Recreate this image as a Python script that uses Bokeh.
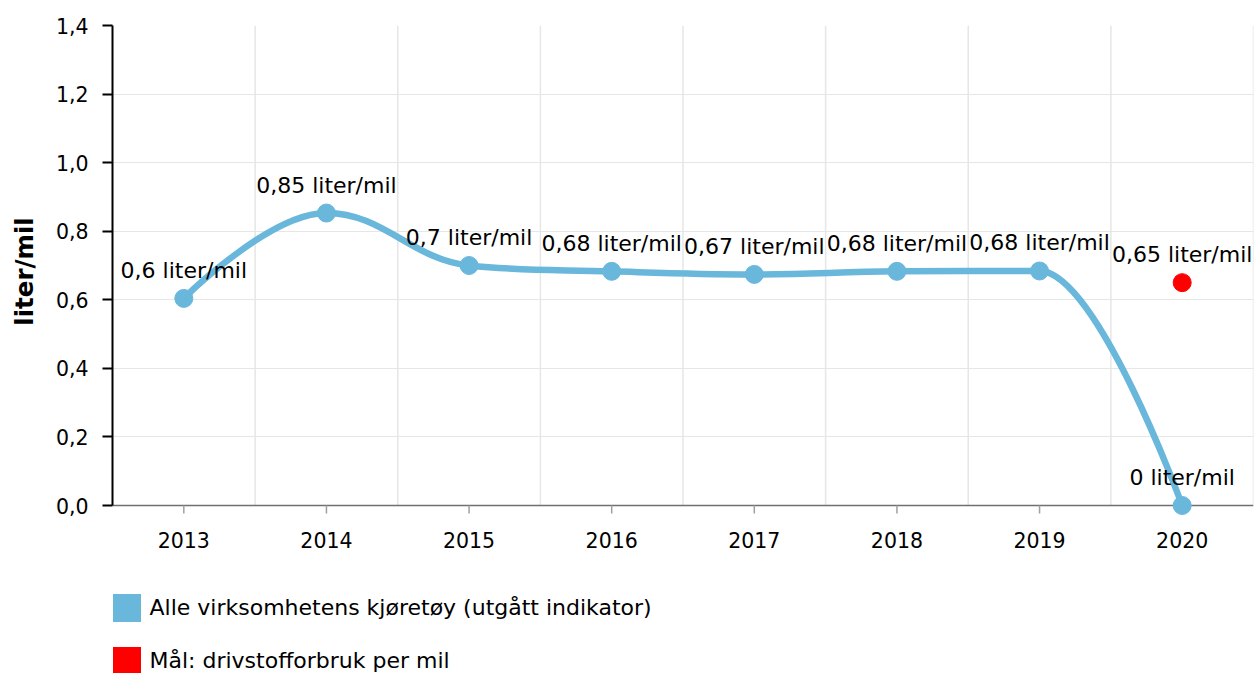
import numpy as np
from bokeh.plotting import figure
from bokeh.layouts import column
from bokeh.models import (Range1d, FixedTicker, CustomJSTickFormatter, Legend,
                          LegendItem, ColumnDataSource, Span)
from bokeh.core.properties import value
from bokeh.embed import file_html
from bokeh.resources import INLINE

# ---------------- data ----------------
years = ["2013", "2014", "2015", "2016", "2017", "2018", "2019", "2020"]
fuel = [0.604, 0.853, 0.700, 0.683, 0.674, 0.683, 0.684, 0.0]
target_years = ["2020"]
target = [0.65]
y_ticks = [0.0, 0.2, 0.4, 0.6, 0.8, 1.0, 1.2, 1.4]
series_names = ["Alle virksomhetens kjøretøy (utgått indikator)",
                "Mål: drivstofforbruk per mil"]
unit = "liter/mil"

BLUE = "#6AB7DC"
RED = "#FF0000"
GRID = "#E6E6E6"
FONT = "DejaVu Sans"


def fmt(v):
    return f"{round(v, 2):g}".replace(".", ",") + " " + unit


# ---------------- spline control points (Highcharts-style) ----------------
def spline_controls(x, y, smoothing=1.5):
    n = len(x)
    denom = smoothing + 1
    lcx, lcy = list(x), list(y)
    rcx, rcy = list(x), list(y)
    for i in range(1, n - 1):
        px, py = x[i], y[i]
        lx, ly = x[i - 1], y[i - 1]
        nx, ny = x[i + 1], y[i + 1]
        lcx_, lcy_ = (smoothing * px + lx) / denom, (smoothing * py + ly) / denom
        rcx_, rcy_ = (smoothing * px + nx) / denom, (smoothing * py + ny) / denom
        corr = ((rcy_ - lcy_) * (rcx_ - px)) / (rcx_ - lcx_) + py - rcy_
        lcy_ += corr
        rcy_ += corr
        if lcy_ > ly and lcy_ > py:
            lcy_ = max(ly, py); rcy_ = 2 * py - lcy_
        elif lcy_ < ly and lcy_ < py:
            lcy_ = min(ly, py); rcy_ = 2 * py - lcy_
        if rcy_ > ny and rcy_ > py:
            rcy_ = max(ny, py); lcy_ = 2 * py - rcy_
        elif rcy_ < ny and rcy_ < py:
            rcy_ = min(ny, py); lcy_ = 2 * py - rcy_
        lcx[i], lcy[i], rcx[i], rcy[i] = lcx_, lcy_, rcx_, rcy_
    return lcx, lcy, rcx, rcy


xs = [float(i) for i in range(len(years))]
lcx, lcy, rcx, rcy = spline_controls(xs, fuel)
seg = ColumnDataSource(dict(
    x0=xs[:-1], y0=fuel[:-1], x1=xs[1:], y1=fuel[1:],
    cx0=rcx[:-1], cy0=rcy[:-1], cx1=lcx[1:], cy1=lcy[1:]))

pts = ColumnDataSource(dict(x=xs, y=fuel, label=[fmt(v) for v in fuel]))
tx = [float(years.index(t)) for t in target_years]
tgt = ColumnDataSource(dict(x=tx, y=target, label=[fmt(v) for v in target]))

# ---------------- main chart ----------------
px_per_unit = 480 / 1.4
p = figure(width=1255, height=580,
           x_range=Range1d(-0.5, len(years) - 0.5),
           y_range=Range1d(-12 / px_per_unit, 1.4),
           output_backend="svg", toolbar_location=None,
           min_border_left=112, min_border_right=2,
           min_border_top=25, min_border_bottom=63)
p.outline_line_color = None
p.background_fill_color = "white"
p.border_fill_color = "white"

# grid
p.xgrid.visible = False
p.ygrid.ticker = FixedTicker(ticks=y_ticks)
p.ygrid.grid_line_color = GRID
p.ygrid.grid_line_width = 1
bounds = [i + 0.5 for i in range(len(years))]
p.segment(x0=bounds, y0=[0] * len(bounds), x1=bounds, y1=[1.4] * len(bounds),
          line_color=GRID, line_width=1.5, level="underlay")

# x axis line at y = 0 and its ticks
p.add_layout(Span(location=0, dimension="width", line_color="#707070",
                  line_width=1.5, level="underlay"))
tick_len = 8 / px_per_unit
p.segment(x0=xs, y0=[0] * len(xs), x1=xs, y1=[-tick_len] * len(xs),
          line_color="#A0A0A0", line_width=1.5)

xa = p.xaxis[0]
xa.ticker = FixedTicker(ticks=xs)
xa.formatter = CustomJSTickFormatter(args=dict(labels=years),
                                     code="return labels[Math.round(tick)];")
xa.axis_line_color = None
xa.major_tick_line_color = None
xa.major_tick_out = 0
xa.major_tick_in = 0
xa.minor_tick_line_color = None
xa.major_label_text_font = FONT
xa.major_label_text_font_size = "20.5px"
xa.major_label_text_color = "#000000"
xa.major_label_standoff = 14

# y axis
ya = p.yaxis[0]
ya.ticker = FixedTicker(ticks=y_ticks)
ya.formatter = CustomJSTickFormatter(code="return tick.toFixed(1).replace('.', ',');")
ya.bounds = (0, 1.4)
ya.axis_line_color = "#000000"
ya.axis_line_width = 2
ya.major_tick_line_color = "#000000"
ya.major_tick_line_width = 2
ya.major_tick_out = 10
ya.major_tick_in = 0
ya.minor_tick_line_color = None
ya.major_label_text_font = FONT
ya.major_label_text_font_size = "20.5px"
ya.major_label_text_color = "#000000"
ya.major_label_standoff = 14
ya.axis_label = unit
ya.axis_label_text_font = FONT
ya.axis_label_text_font_style = "bold"
ya.axis_label_text_font_size = "24.5px"
ya.axis_label_text_color = "#000000"
ya.axis_label_standoff = 14

# series
p.bezier(x0="x0", y0="y0", x1="x1", y1="y1", cx0="cx0", cy0="cy0",
         cx1="cx1", cy1="cy1", source=seg, line_color=BLUE, line_width=6.5,
         line_cap="round")
p.scatter("x", "y", source=pts, size=18, fill_color=BLUE, line_color=BLUE)
p.scatter("x", "y", source=tgt, size=18, fill_color=RED, line_color=RED)

for src in (pts, tgt):
    p.text("x", "y", text="label", source=src, text_align="center",
           text_baseline="alphabetic", y_offset=-28,
           text_font=value(FONT), text_font_size="22px", text_color="#000000")

# ---------------- legend strip (frame aligned with the chart's frame) ----------------
lg = figure(width=1255, height=93, x_range=Range1d(0, 1), y_range=Range1d(0, 1),
            output_backend="svg", toolbar_location=None,
            x_axis_location=None, y_axis_location=None,
            min_border_left=0, min_border_right=0,
            min_border_top=0, min_border_bottom=0)
lg.outline_line_color = None
lg.xgrid.visible = False
lg.ygrid.visible = False
leg_blue = lg.quad(left=[np.nan], right=[np.nan], top=[np.nan], bottom=[np.nan],
                   fill_color=BLUE, line_color=None)
leg_red = lg.quad(left=[np.nan], right=[np.nan], top=[np.nan], bottom=[np.nan],
                  fill_color=RED, line_color=None)
legend = Legend(items=[LegendItem(label=series_names[0], renderers=[leg_blue]),
                       LegendItem(label=series_names[1], renderers=[leg_red])],
                location=(-3.5, -4.5), orientation="vertical",
                glyph_width=35, glyph_height=35, spacing=18,
                padding=0, margin=0, label_standoff=6,
                label_text_font=FONT, label_text_font_size="22px",
                label_text_color="#000000",
                border_line_color=None, background_fill_alpha=0)
lg.add_layout(legend)

layout = column(p, lg, spacing=0)
open("out.html", "w").write(file_html(layout, INLINE))
